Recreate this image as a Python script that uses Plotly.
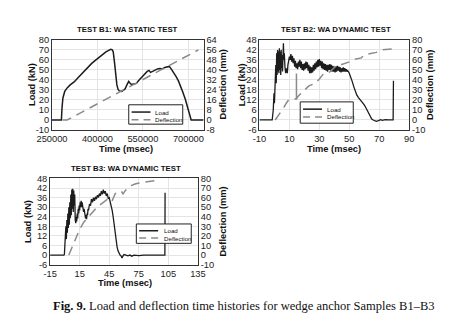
import plotly.graph_objects as go

W, H = 456, 321

# ---------------- data ----------------
# Test B1 (static)
b1_time = [250000, 281000, 283000, 286000, 292000, 300000, 310000, 323000, 335000, 350000,
           365000, 381000, 395000, 407000, 418000, 428000, 437000, 444000, 449000, 452000,
           456000, 460000, 464000, 468000, 472000, 480000, 486000, 491000, 497000, 503000,
           507000, 512000, 520000, 528000, 536000, 543000, 553000, 564000, 570000, 575000,
           582000, 590000, 598000, 606000, 614000, 622000, 632000, 637000, 643000, 651000,
           659000, 667000, 674000, 682000, 690000, 696000, 701000, 705000, 709000, 720000, 750000]
b1_load = [0, 0, 12, 22, 28.5, 32, 35, 38, 42, 47,
           52, 56.5, 60, 63, 66, 68, 69.5, 70.5, 70, 68,
           58, 45, 35, 30.5, 29, 28.5, 29.5, 31, 35, 38.5,
           37, 35.5, 36, 36.5, 39.5, 42, 45, 48.5, 49.5, 47.5,
           48.5, 50, 51, 51.5, 51, 52.5, 53.5, 53.5, 51, 47.5,
           43.5, 39, 34, 27.5, 20.5, 14, 7.5, 3, 0, 0, 0]
b1_defl_time = [285000, 300000, 733000]
b1_defl = [0, 0, 56]

# Test B2 (dynamic)
b2_time = [-10, -1.5, -0.8, -0.3, 0.0, 0.3, 0.6, 0.9, 1.2, 1.5, 1.8, 2.1, 2.4, 2.7, 3.0, 3.3, 3.6, 3.9,
           4.2, 4.5, 4.8, 5.1, 5.4, 5.7, 6.0, 6.3, 6.6, 7.0, 7.5, 8.0, 8.6, 9.0, 9.5, 10.0, 10.5, 11.0,
           11.5, 12.0, 12.5, 13.0, 13.5, 14.0, 14.5, 15.0, 15.5, 16.0, 16.5, 17.0, 17.5, 18.0, 18.5, 19.0,
           19.5, 20.0, 20.5, 21.0, 21.5, 22.0, 22.5, 23.0, 23.5, 24.0, 24.5, 25.0, 25.5, 26.0, 26.5, 27.0,
           27.5, 28.0, 28.5, 29.0, 29.5, 30.0, 30.5, 31.0, 31.5, 32.0, 32.5, 33.0, 33.5, 34.0, 34.5, 35.0,
           35.5, 36.0, 36.5, 37.0, 37.5, 38.0, 38.5, 39.0, 39.5, 40.0, 40.5, 41.0, 41.5, 42.0, 42.5, 43.0,
           43.5, 44.0, 44.5, 45.0, 45.5, 46.0, 46.5, 47.0, 47.5, 48.0, 48.5, 49.0, 50, 51, 52, 53, 54, 55,
           56, 57, 58, 59, 60, 61, 62, 63, 64, 65, 66, 67, 68, 69, 70, 71, 72, 74, 76, 78, 79.3, 79.5]
b2_load = [0, 0, 6, 16, 10, 24, 16, 33, 22, 40, 27, 42, 29, 41, 28, 43, 30, 41,
           27, 42, 31, 39, 29, 42, 46, 36, 40, 32, 28, 31, 28, 33, 35, 38, 36, 39.5,
           35, 38.5, 34, 37, 32, 35.5, 31, 34, 30.5, 35, 32, 36, 31, 35, 30, 33.5,
           29.5, 34, 30.5, 35, 31, 34.5, 29.5, 33, 28, 32, 28, 31.5, 28.5, 33, 29.5, 34,
           30.5, 35, 31.5, 36, 32, 36.5, 32.5, 35.5, 31, 35, 30.5, 34, 30, 33.5, 29.5, 33,
           29, 33, 30, 33.5, 29.5, 33, 29, 32.5, 29, 32, 28.5, 32, 29, 32.5, 29.5, 32,
           29, 31.5, 28.5, 31, 29, 31.5, 29, 31, 29, 30.5, 29, 29.5, 28, 26, 23, 20, 17, 15,
           13.5, 12.5, 11.5, 10.5, 9, 7.5, 5.5, 3.5, 1.5, 0.5, 0, -0.5, -0.8, -0.5, 0, 0.2, -0.2, 0.2, 0, 0.2, 0, 23.5]
b2_defl_time = [0.5, 1.5, 3, 5, 6.5, 8, 9.5, 11, 14.5, 16, 18, 20, 23, 25.5, 27.5, 30, 33, 37,
                40, 42, 45, 48, 50, 53, 58, 60, 64, 68, 72, 75, 79]
b2_defl = [0, 2, 5, 9, 13, 17, 20, 20.5, 21, 24, 27, 30, 34, 35.5, 37, 41, 46.5, 48,
           52, 55, 55.5, 57, 58, 60.5, 62, 65, 66, 67.5, 70, 70.5, 71]
b2_jump_time = [14.7, 14.7]
b2_jump_defl = [20.6, 46.5]

# Test B3 (dynamic)
b3_time = [-15, -1, -0.5, 0.0, 0.5, 1.0, 1.5, 2.0, 2.5, 3.0, 3.5, 4.0, 4.5, 5.0, 5.5, 6.0, 6.5, 7.0,
           7.5, 8.0, 8.5, 9.0, 9.5, 10.0, 10.5, 11.0, 11.5, 12.0, 12.5, 13.0, 13.5, 14.0, 14.5, 15.0,
           15.5, 16.0, 16.5, 17.0, 17.5, 18.0, 18.5, 19.0, 19.5, 20.0, 20.5, 21.0, 21.5, 22.0, 22.5,
           23.0, 23.5, 24.0, 25, 26, 27, 28, 29, 30, 31, 32, 33, 34, 35, 36, 37, 38, 39, 40, 41, 42,
           43, 44, 45, 46, 47, 48, 49, 50, 51, 52, 53, 54, 55, 56, 57, 58, 59, 60, 62, 64, 66, 68, 70,
           75, 80, 85, 90, 95, 100, 101.5, 101.7]
b3_load = [0, 0, 0.5, 10, 5, 18, 10, 22, 14, 26, 17, 30, 19, 33, 23, 38, 25, 41,
           29, 41.5, 27, 40.5, 31, 38, 22, 20, 24, 21, 26, 23, 29, 26, 31, 28,
           33, 30, 34, 30, 33, 29, 31, 27, 29, 25, 27, 23, 25, 22.5, 26,
           25, 29, 28, 32, 31, 35, 33, 36, 34, 36.5, 35, 37.5, 36, 38.5, 37, 40, 38, 41, 38.5, 40, 37,
           38.5, 35.5, 36, 33.5, 31, 28, 24, 19, 13, 8.5, 5, 2.5, 1, 0, -0.5, -1.8, -0.5, 0.3, 0, -0.5, 0, -0.7, 0,
           -0.3, 0, -0.2, 0, 0, 0.2, 0, 39]
b3_defl_time = [4, 6, 9.5, 12, 15, 19, 23, 27, 31, 35, 39, 43, 47.5, 51, 55, 57.5, 59, 61, 66, 72, 80, 88, 96]
b3_defl = [0, 5, 13, 20, 27, 34, 39, 44, 48, 52, 55, 58, 55.5, 64, 66.5, 66.5, 63.5, 67, 72, 74.5, 76, 77, 78.5]

assert len(b1_time) == len(b1_load)
assert len(b2_time) == len(b2_load)
assert len(b3_time) == len(b3_load)

# tick labels
b1_xticks = [250000, 400000, 550000, 700000]
b1_xlabels = ["250000", "400000", "550000", "700000"]
b1_lticks = [-10, 0, 10, 20, 30, 40, 50, 60, 70, 80]
b1_rticks = [-8, 0, 8, 16, 24, 32, 40, 48, 56, 64]
b2_xticks = [-10, 10, 30, 50, 70, 90]
b3_xticks = [-15, 15, 45, 75, 105, 135]
dyn_lticks = [-6, 0, 6, 12, 18, 24, 30, 36, 42, 48]
dyn_rticks = [-10, 0, 10, 20, 30, 40, 50, 60, 70, 80]

titles = ["TEST B1: WA STATIC TEST", "TEST B2: WA DYNAMIC TEST", "TEST B3: WA DYNAMIC TEST"]
caption_bold = "Fig. 9."
caption_text = "Load and deflection time histories for wedge anchor Samples B1–B3"

# ---------------- styling ----------------
LOAD_C = "#1c1c1c"
DEFL_C = "#8a8a8a"
DASH = "9px,6px"
FONT = "Arial, Liberation Sans, sans-serif"
TICK_FONT = dict(family=FONT, size=9.3, color="#222")


def lab(v):
    return [str(x) for x in v]


def px(x):
    return x / W


def py(y):
    return 1 - y / H


# plot rectangles in pixel coordinates (left, right, top, bottom)
boxes = {
    1: (38, 198, 36, 129),
    2: (257, 415, 36, 129),
    3: (36, 192, 179, 268),
}

fig = go.Figure()

fig.add_trace(go.Scatter(x=b1_time, y=b1_load, mode="lines", line=dict(color=LOAD_C, width=1.5),
                         xaxis="x", yaxis="y", showlegend=False))
fig.add_trace(go.Scatter(x=b1_defl_time, y=b1_defl, mode="lines", line=dict(color=DEFL_C, width=1.5, dash=DASH),
                         xaxis="x", yaxis="y2", showlegend=False))
fig.add_trace(go.Scatter(x=b2_time, y=b2_load, mode="lines", line=dict(color=LOAD_C, width=1.3),
                         xaxis="x2", yaxis="y3", showlegend=False))
fig.add_trace(go.Scatter(x=b2_defl_time, y=b2_defl, mode="lines", line=dict(color=DEFL_C, width=1.5, dash=DASH),
                         xaxis="x2", yaxis="y4", showlegend=False))
fig.add_trace(go.Scatter(x=b2_jump_time, y=b2_jump_defl, mode="lines", line=dict(color=DEFL_C, width=1.5),
                         xaxis="x2", yaxis="y4", showlegend=False))
fig.add_trace(go.Scatter(x=b3_time, y=b3_load, mode="lines", line=dict(color=LOAD_C, width=1.3),
                         xaxis="x3", yaxis="y5", showlegend=False))
fig.add_trace(go.Scatter(x=b3_defl_time, y=b3_defl, mode="lines", line=dict(color=DEFL_C, width=1.5, dash=DASH),
                         xaxis="x3", yaxis="y6", showlegend=False))

common = dict(showline=True, linecolor="#333", linewidth=1, zeroline=False, ticks="",
              tickfont=TICK_FONT, fixedrange=True)


def xax(i, rng, tv):
    l, r, t, b = boxes[i]
    return dict(domain=[px(l), px(r)], range=rng, tickmode="array", tickvals=tv, ticktext=lab(tv),
                mirror=True, showgrid=True, gridcolor="#e4e4e4", gridwidth=1,
                anchor="y" if i == 1 else ("y3" if i == 2 else "y5"), **common)


def yax(i, rng, tv, xa, right=False, overl=None):
    l, r, t, b = boxes[i]
    d = dict(domain=[py(b), py(t)], range=rng, tickmode="array", tickvals=tv, ticktext=lab(tv),
             anchor=xa, **common)
    if right:
        d.update(side="right", overlaying=overl, showgrid=False)
    else:
        d.update(side="left", showgrid=True, gridcolor="#e4e4e4", gridwidth=1, mirror=True)
    return d


fig.update_layout(
    width=W, height=H, autosize=False,
    margin=dict(l=0, r=0, t=0, b=0),
    paper_bgcolor="white", plot_bgcolor="white",
    showlegend=False,
    xaxis=xax(1, [250000, 750000], b1_xticks) | dict(ticktext=b1_xlabels),
    yaxis=yax(1, [-10, 80], b1_lticks, "x"),
    yaxis2=yax(1, [-8, 64], b1_rticks, "x", right=True, overl="y"),
    xaxis2=xax(2, [-10, 90], b2_xticks),
    yaxis3=yax(2, [-6, 48], dyn_lticks, "x2"),
    yaxis4=yax(2, [-10, 80], dyn_rticks, "x2", right=True, overl="y3"),
    xaxis3=xax(3, [-15, 135], b3_xticks),
    yaxis5=yax(3, [-6, 48], dyn_lticks, "x3"),
    yaxis6=yax(3, [-10, 80], dyn_rticks, "x3", right=True, overl="y5"),
)

ann = []
shapes = []
TITLE_FONT = dict(family=FONT, size=7.8, color="#111", weight="bold")
AX_FONT = dict(family=FONT, size=9.3, color="#111", weight="bold")


def text(x, y, s, font, angle=0, xanchor="center"):
    ann.append(dict(x=px(x), y=py(y), xref="paper", yref="paper", text=s, showarrow=False,
                    font=font, textangle=angle, xanchor=xanchor, yanchor="middle"))


# titles
text(117.5, 25, titles[0], TITLE_FONT)
text(337.5, 25, titles[1], TITLE_FONT)
text(116.5, 169, titles[2], TITLE_FONT)
# axis titles
for (lx, rx, cy, tx, ty) in [(17, 218, 82.5, 116, 149), (239, 437, 82.5, 336, 149), (12, 217.5, 223.5, 115, 287)]:
    text(lx, cy, "Load (kN)", AX_FONT, angle=-90)
    text(rx, cy, "Deflection (mm)", AX_FONT, angle=-90)
    text(tx, ty, "Time (msec)", AX_FONT)

# caption
ann.append(dict(x=px(241), y=py(311), xref="paper", yref="paper", showarrow=False,
                text="<b>" + caption_bold + "</b> " + caption_text,
                font=dict(family="Times New Roman, Liberation Serif, serif", size=12.5, color="#111"),
                xanchor="center", yanchor="middle"))

# custom legends (box, line samples, labels)
LEG_FONT = dict(family=FONT, size=6.2, color="#111")
for (bl, br, bt, bb, y1, y2, ll, lr, tx) in [
    (119, 176, 103, 123, 110.5, 118.5, 122, 142, 145),
    (300, 356, 100, 122, 107.5, 115.5, 303, 323, 326),
    (127, 185, 226, 246, 233, 240.5, 130, 150, 154),
]:
    shapes.append(dict(type="rect", xref="paper", yref="paper", x0=px(bl), x1=px(br), y0=py(bb), y1=py(bt),
                       line=dict(color="#222", width=1), fillcolor="white", layer="above"))
    shapes.append(dict(type="line", xref="paper", yref="paper", x0=px(ll), x1=px(lr), y0=py(y1), y1=py(y1),
                       line=dict(color=LOAD_C, width=1.5), layer="above"))
    shapes.append(dict(type="line", xref="paper", yref="paper", x0=px(ll), x1=px(lr), y0=py(y2), y1=py(y2),
                       line=dict(color=DEFL_C, width=1.5, dash="7px,5px"), layer="above"))
    text(tx, y1, "Load", LEG_FONT, xanchor="left")
    text(tx, y2, "Deflection", LEG_FONT, xanchor="left")

fig.update_layout(annotations=ann, shapes=shapes)

fig.write_html("out.html", config={"displayModeBar": False})
